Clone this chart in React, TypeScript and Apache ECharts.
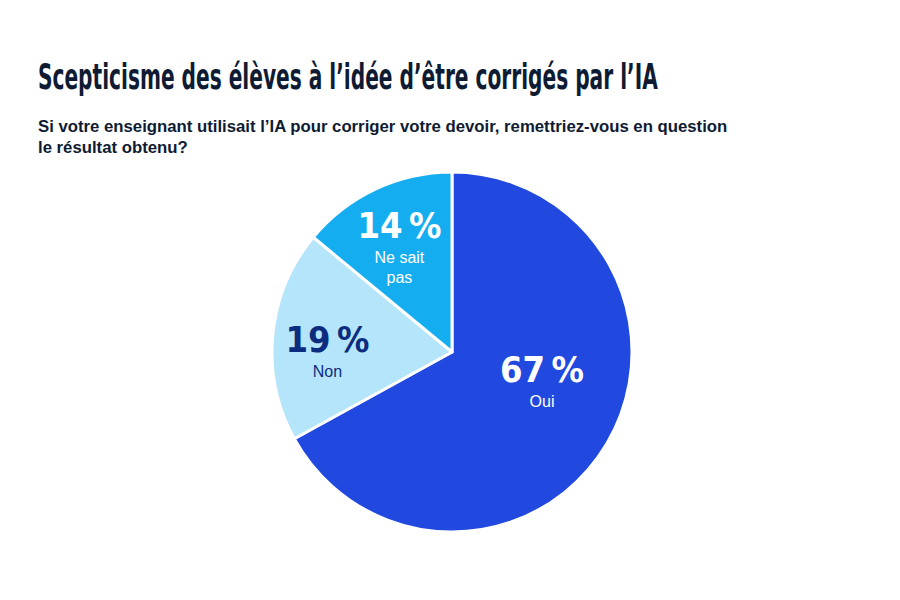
import React, { useEffect, useRef } from 'react';
import * as echarts from 'echarts';

const categories = ['Oui', 'Non', 'Ne sait pas'];
const values = [67, 19, 14];
const valueLabels = ['67\u2009%', '19\u2009%', '14\u2009%'];
const nameLabels = ['Oui', 'Non', 'Ne sait\npas'];

const titleText = "Scepticisme des élèves à l’idée d’être corrigés par l’IA";
const subtitleLines = [
  'Si votre enseignant utilisait l’IA pour corriger votre devoir, remettriez-vous en question',
  'le résultat obtenu?'
];

const sliceColors = ['#2249df', '#b5e5fb', '#14aef0'];
const labelColors = ['#ffffff', '#0c2c80', '#ffffff'];
const labelOffsets = [[10, -20], [-32, 6], [-13, -22]];

const App: React.FC = () => {
  const chartRef = useRef<HTMLDivElement>(null);

  useEffect(() => {
    document.body.style.margin = '0';
    if (!chartRef.current) return;
    const chart = echarts.init(chartRef.current, undefined, { renderer: 'svg' });

    const option = {
      animation: false,
      backgroundColor: '#ffffff',
      graphic: [
        {
          type: 'text',
          left: 38,
          top: 60,
          scaleX: 0.64,
          style: {
            text: titleText,
            fontFamily: 'DejaVu Sans Condensed',
            fontWeight: 'bold',
            fontSize: 35,
            fill: '#0e1b33'
          }
        },
        {
          type: 'text',
          left: 38,
          top: 116,
          scaleX: 0.985,
          style: {
            text: subtitleLines.join('\n'),
            fontFamily: 'Liberation Sans',
            fontWeight: 'bold',
            fontSize: 17,
            lineHeight: 21,
            fill: '#0e1b33'
          }
        }
      ],
      series: [
        {
          type: 'pie',
          center: [452, 352],
          radius: 180,
          startAngle: 90,
          clockwise: true,
          itemStyle: { borderColor: '#ffffff', borderWidth: 3 },
          emphasis: { disabled: true },
          labelLine: { show: false },
          data: categories.map((name, i) => ({
            name,
            value: values[i],
            itemStyle: { color: sliceColors[i] },
            label: {
              show: true,
              position: 'inside',
              offset: labelOffsets[i],
              formatter: `{v|${valueLabels[i]}}\n{n|${nameLabels[i].split('\n').join('}\n{n|')}}`,
              rich: {
                v: {
                  fontFamily: 'DejaVu Sans Condensed',
                  fontWeight: 'bold',
                  fontSize: 36,
                  lineHeight: 44,
                  color: labelColors[i],
                  align: 'center'
                },
                n: {
                  fontFamily: 'Liberation Sans',
                  fontSize: 16,
                  lineHeight: 20,
                  color: labelColors[i],
                  align: 'center'
                }
              }
            }
          }))
        }
      ]
    };

    chart.setOption(option);
    return () => chart.dispose();
  }, []);

  return <div ref={chartRef} style={{ width: 900, height: 600 }} />;
};

export default App;
